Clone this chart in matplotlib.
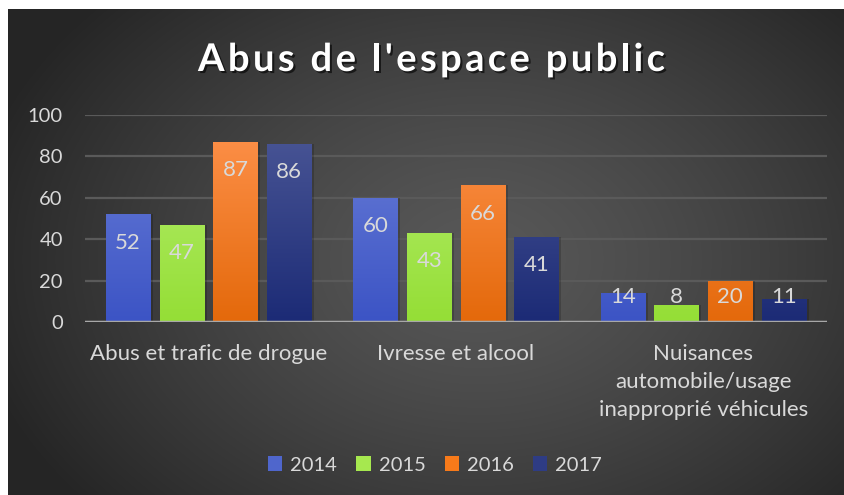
import matplotlib.pyplot as plt
import matplotlib.patheffects as pe
import numpy as np
from matplotlib.colors import LinearSegmentedColormap
from matplotlib.patches import Patch
from matplotlib.font_manager import FontProperties

# Data
categories = ['Abus et trafic de drogue', 'Ivresse et alcool',
              'Nuisances\nautomobile/usage\ninapproprié véhicules']
years = ['2014', '2015', '2016', '2017']
v2014 = [52, 60, 14]
v2015 = [47, 43, 8]
v2016 = [87, 66, 20]
v2017 = [86, 41, 11]
series = [v2014, v2015, v2016, v2017]
yticks = [0, 20, 40, 60, 80, 100]
title = "Abus de l'espace public"

# gradient colours (top, bottom) per year
grad = [('#6c80d8', '#3c54c5'),
        ('#b8f074', '#95de36'),
        ('#ff934e', '#e4690b'),
        ('#4d5998', '#1c2b76')]
mid = ['#4f66cc', '#a6e84f', '#f77a1a', '#2e3c84']
TXT = '#d9d9d9'

plt.rcParams['font.family'] = ['Lato', 'DejaVu Sans']

W, H = 844, 495
fig = plt.figure(figsize=(W / 100, H / 100), dpi=100)
fig.patch.set_facecolor('white')

# dark panel with radial gradient
bg = fig.add_axes([8 / W, 0, (W - 8) / W, (H - 9) / H])
bg.set_axis_off()
yy, xx = np.mgrid[0:486, 0:836]
cx, cy = 470, 250
r = np.sqrt(((xx - cx) / 520.0) ** 2 + ((yy - cy) / 380.0) ** 2)
r = np.clip(r, 0, 1)
light, dark = 0x58 / 255, 0x25 / 255
img = light + (dark - light) * r ** 1.3
bg.imshow(np.dstack([img, img, img]), aspect='auto', interpolation='bilinear')

# main axes
ax = fig.add_axes([85 / W, (H - 322) / H, 742 / W, 207 / H])
ax.patch.set_alpha(0)

x = np.arange(len(categories))
step, bw = 0.217, 0.178
offsets = (np.arange(4) - 1.5) * step

for i, vals in enumerate(series):
    # soft shadow
    ax.bar(x + offsets[i] + 0.012, vals, bw, color='black', alpha=0.18, zorder=2)
    bars = ax.bar(x + offsets[i], vals, bw, color=mid[i], zorder=3, label=years[i])
    cmap = LinearSegmentedColormap.from_list('g%d' % i, [grad[i][1], grad[i][0]])
    for b, v in zip(bars, vals):
        x0 = b.get_x()
        im = ax.imshow(np.linspace(0, 1, 100).reshape(-1, 1), cmap=cmap, origin='lower',
                       extent=[x0, x0 + bw, 0, 100], aspect='auto', zorder=3.5)
        im.set_clip_path(b)
        ax.text(x0 + bw / 2, max(v - 13.7, 12.2), str(v), ha='center', va='center',
                color=TXT, fontsize=16, zorder=5)

ax.set_xlim(-0.5, 2.5)
ax.set_ylim(0, 100)
ax.grid(axis='y', color='#5a5a5a', linewidth=1.6, zorder=1)
ax.axhline(0, color='#a8a8a8', linewidth=2.5, zorder=4)
for s in ax.spines.values():
    s.set_visible(False)
ax.tick_params(length=0)
ax.set_yticks(yticks)
ax.set_yticklabels([str(t) for t in yticks], color=TXT, fontsize=14.5)
ax.tick_params(axis='y', pad=16)
ax.set_xticks(x)
ax.set_xticklabels(categories, color=TXT, fontsize=16, linespacing=1.5, va='top')
ax.tick_params(axis='x', pad=16)

# title with letter spacing
fp = FontProperties(family='Lato', weight='bold', size=27.5)
renderer = fig.canvas.get_renderer()
widths = [renderer.get_text_width_height_descent(c, fp, ismath=False)[0] for c in title]
target = 467.0
gap = (target - sum(widths)) / (len(title) - 1)
xpos = 198.0
for c, w in zip(title, widths):
    fig.text(xpos / W, 1 - 71 / H, c, ha='left', va='baseline', color='white',
             fontproperties=fp,
             path_effects=[pe.withSimplePatchShadow(offset=(1.5, -1.5),
                                                    shadow_rgbFace='black', alpha=0.6)])
    xpos += w + gap

# legend
handles = [Patch(facecolor=mid[i], label=years[i]) for i in range(4)]
leg = fig.legend(handles=handles, loc='center', bbox_to_anchor=(435 / W, 1 - 465 / H),
                 ncol=4, frameon=False, fontsize=14.5, handlelength=0.7, handleheight=0.7,
                 handletextpad=0.4, columnspacing=0.95)
for t in leg.get_texts():
    t.set_color(TXT)

fig.savefig('out.png', dpi=100)
